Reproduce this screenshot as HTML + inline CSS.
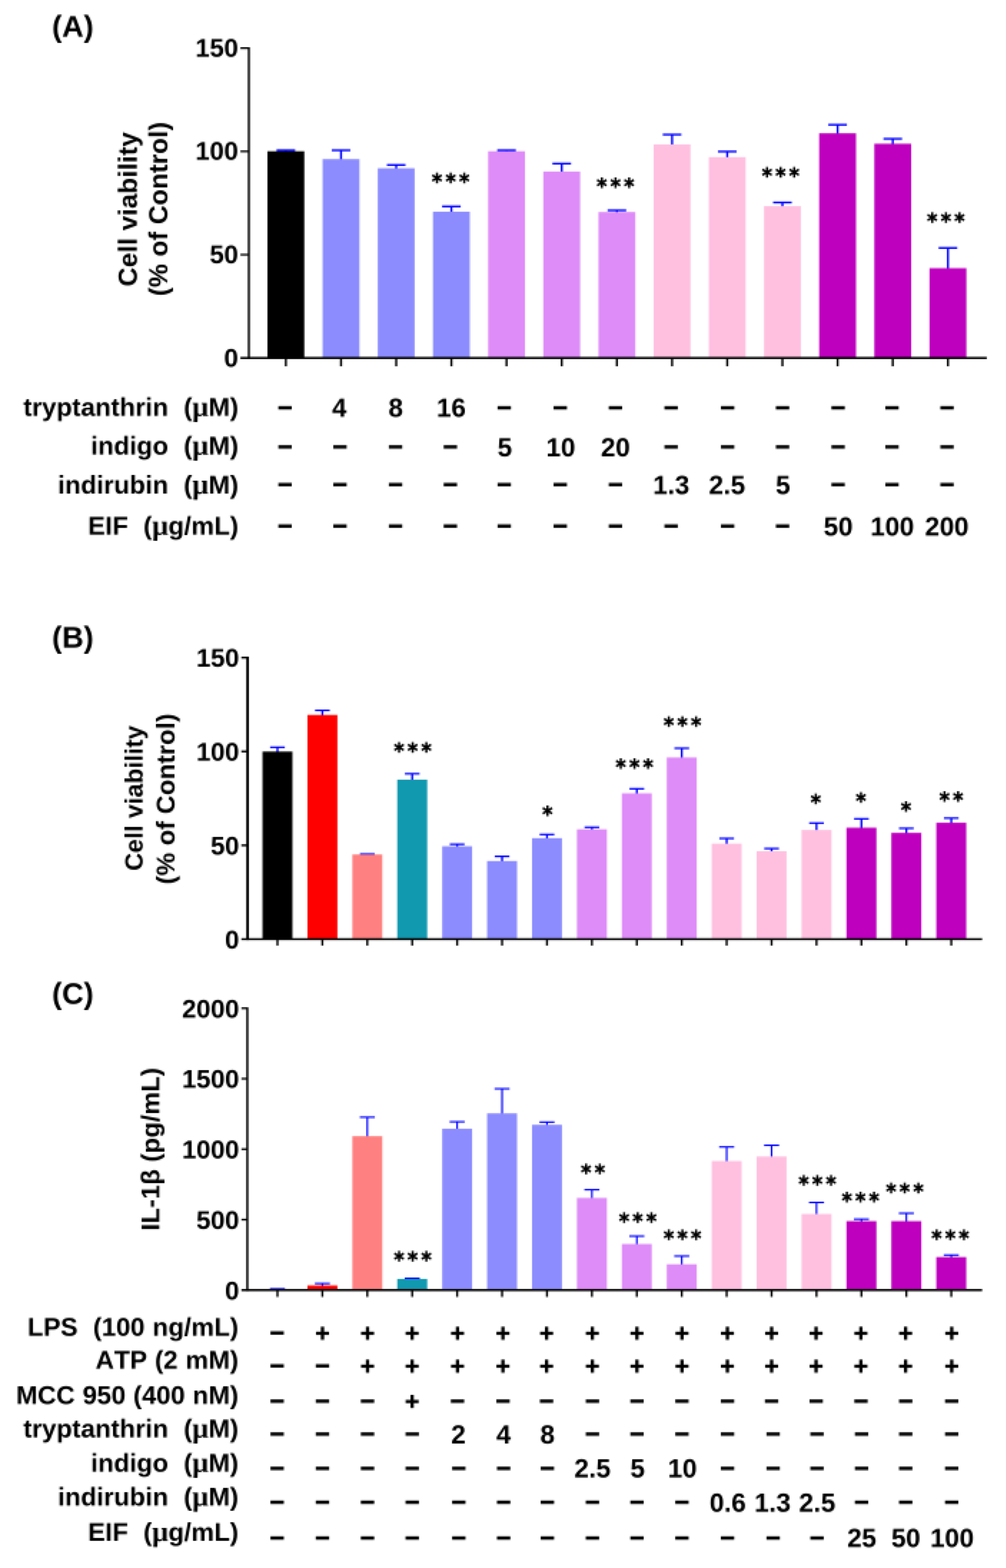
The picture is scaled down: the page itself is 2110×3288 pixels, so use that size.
<!DOCTYPE html>
<html lang="en"><head><meta charset="utf-8"><title>Figure</title>
<style>
html,body{margin:0;padding:0;background:#fff;}
body{width:2110px;height:3288px;overflow:hidden;}
svg{display:block;font-family:"Liberation Sans", Arial, sans-serif;font-weight:bold;fill:#000;}
text{font-kerning:none;}
.s{stroke:#000;stroke-width:1.2px;}
.a{stroke:#000;stroke-width:1.1px;font-family:'DejaVu Sans',sans-serif;}
</style></head><body>
<svg width="2110" height="3288" viewBox="0 0 2110 3288">
<defs>
<filter id="px" filterUnits="userSpaceOnUse" primitiveUnits="userSpaceOnUse" x="0" y="0" width="2110" height="3288" color-interpolation-filters="sRGB">
<feConvolveMatrix in="SourceGraphic" order="3" kernelMatrix="1 1 1 1 1 1 1 1 1" divisor="9" edgeMode="duplicate" preserveAlpha="false" result="avg"/>
<feFlood x="1" y="1" width="1" height="1" flood-color="#000" flood-opacity="1" result="dot"/>
<feComposite in="dot" in2="dot" operator="over" x="0" y="0" width="3" height="3" result="cell"/>
<feTile in="cell" x="0" y="0" width="2110" height="3288" result="grid"/>
<feComposite in="avg" in2="grid" operator="in" result="dots"/>
<feMorphology in="dots" operator="dilate" radius="1" result="pix"/>
<feConvolveMatrix in="pix" order="3" kernelMatrix="1 4 1 4 16 4 1 4 1" divisor="36" edgeMode="duplicate" preserveAlpha="false"/>
</filter>
</defs>
<g filter="url(#px)">
<rect x="0" y="0" width="2110" height="3288" fill="#ffffff"/>
<rect x="597.50" y="314.50" width="4.20" height="3.70" fill="#0000ff" />
<rect x="580.10" y="313.10" width="39.00" height="4.00" fill="#0000ff" />
<rect x="560.95" y="317.20" width="77.30" height="433.50" fill="#000000" />
<rect x="713.22" y="314.50" width="4.20" height="20.10" fill="#0000ff" />
<rect x="695.82" y="313.10" width="39.00" height="4.00" fill="#0000ff" />
<rect x="676.67" y="333.60" width="77.30" height="417.10" fill="#8c8cff" />
<rect x="828.94" y="345.30" width="4.20" height="8.50" fill="#0000ff" />
<rect x="811.54" y="343.90" width="39.00" height="4.00" fill="#0000ff" />
<rect x="792.39" y="352.80" width="77.30" height="397.90" fill="#8c8cff" />
<rect x="944.66" y="432.30" width="4.20" height="12.60" fill="#0000ff" />
<rect x="927.26" y="430.90" width="39.00" height="4.00" fill="#0000ff" />
<rect x="908.11" y="443.90" width="77.30" height="306.80" fill="#8c8cff" />
<rect x="1060.38" y="314.50" width="4.20" height="3.70" fill="#0000ff" />
<rect x="1042.98" y="313.10" width="39.00" height="4.00" fill="#0000ff" />
<rect x="1023.83" y="317.20" width="77.30" height="433.50" fill="#de8cf8" />
<rect x="1176.10" y="342.50" width="4.20" height="18.20" fill="#0000ff" />
<rect x="1158.70" y="341.10" width="39.00" height="4.00" fill="#0000ff" />
<rect x="1139.55" y="359.70" width="77.30" height="391.00" fill="#de8cf8" />
<rect x="1291.82" y="440.50" width="4.20" height="5.10" fill="#0000ff" />
<rect x="1274.42" y="439.10" width="39.00" height="4.00" fill="#0000ff" />
<rect x="1255.27" y="444.60" width="77.30" height="306.10" fill="#de8cf8" />
<rect x="1407.54" y="281.60" width="4.20" height="22.20" fill="#0000ff" />
<rect x="1390.14" y="280.20" width="39.00" height="4.00" fill="#0000ff" />
<rect x="1370.99" y="302.80" width="77.30" height="447.90" fill="#ffc0e0" />
<rect x="1523.26" y="317.20" width="4.20" height="13.30" fill="#0000ff" />
<rect x="1505.86" y="315.80" width="39.00" height="4.00" fill="#0000ff" />
<rect x="1486.71" y="329.50" width="77.30" height="421.20" fill="#ffc0e0" />
<rect x="1638.98" y="424.00" width="4.20" height="9.30" fill="#0000ff" />
<rect x="1621.58" y="422.60" width="39.00" height="4.00" fill="#0000ff" />
<rect x="1602.43" y="432.30" width="77.30" height="318.40" fill="#ffc0e0" />
<rect x="1754.70" y="261.00" width="4.20" height="19.50" fill="#0000ff" />
<rect x="1737.30" y="259.60" width="39.00" height="4.00" fill="#0000ff" />
<rect x="1718.15" y="279.50" width="77.30" height="471.20" fill="#be00be" />
<rect x="1870.42" y="290.50" width="4.20" height="11.90" fill="#0000ff" />
<rect x="1853.02" y="289.10" width="39.00" height="4.00" fill="#0000ff" />
<rect x="1833.87" y="301.40" width="77.30" height="449.30" fill="#be00be" />
<rect x="1986.14" y="519.30" width="4.20" height="44.10" fill="#0000ff" />
<rect x="1968.74" y="517.90" width="39.00" height="4.00" fill="#0000ff" />
<rect x="1949.59" y="562.40" width="77.30" height="188.30" fill="#be00be" />
<rect x="519.85" y="99.00" width="4.30" height="653.95" fill="#000" />
<rect x="504.35" y="748.45" width="1565.35" height="4.50" fill="#000" />
<rect x="504.35" y="99.00" width="16.50" height="3.80" fill="#000" />
<rect x="504.35" y="315.60" width="16.50" height="3.80" fill="#000" />
<rect x="504.35" y="532.20" width="16.50" height="3.80" fill="#000" />
<text x="499.80" y="118.75" font-size="54" text-anchor="end" >150</text>
<text x="499.80" y="335.35" font-size="54" text-anchor="end" >100</text>
<text x="499.80" y="551.95" font-size="54" text-anchor="end" >50</text>
<text x="499.80" y="768.55" font-size="54" text-anchor="end" >0</text>
<rect x="597.45" y="750.70" width="4.30" height="17.40" fill="#000" />
<rect x="713.17" y="750.70" width="4.30" height="17.40" fill="#000" />
<rect x="828.89" y="750.70" width="4.30" height="17.40" fill="#000" />
<rect x="944.61" y="750.70" width="4.30" height="17.40" fill="#000" />
<rect x="1060.33" y="750.70" width="4.30" height="17.40" fill="#000" />
<rect x="1176.05" y="750.70" width="4.30" height="17.40" fill="#000" />
<rect x="1291.77" y="750.70" width="4.30" height="17.40" fill="#000" />
<rect x="1407.49" y="750.70" width="4.30" height="17.40" fill="#000" />
<rect x="1523.21" y="750.70" width="4.30" height="17.40" fill="#000" />
<rect x="1638.93" y="750.70" width="4.30" height="17.40" fill="#000" />
<rect x="1754.65" y="750.70" width="4.30" height="17.40" fill="#000" />
<rect x="1870.37" y="750.70" width="4.30" height="17.40" fill="#000" />
<rect x="1986.09" y="750.70" width="4.30" height="17.40" fill="#000" />
<rect x="579.95" y="1566.40" width="4.10" height="10.60" fill="#0000ff" />
<rect x="566.60" y="1565.20" width="30.80" height="3.60" fill="#0000ff" />
<rect x="550.60" y="1576.00" width="62.80" height="393.35" fill="#000000" />
<rect x="674.17" y="1489.00" width="4.10" height="11.20" fill="#0000ff" />
<rect x="660.82" y="1487.80" width="30.80" height="3.60" fill="#0000ff" />
<rect x="644.82" y="1499.20" width="62.80" height="470.15" fill="#ff0000" />
<rect x="768.38" y="1790.40" width="4.10" height="2.40" fill="#0000ff" />
<rect x="755.03" y="1789.20" width="30.80" height="3.60" fill="#0000ff" />
<rect x="739.03" y="1791.80" width="62.80" height="177.55" fill="#ff8080" />
<rect x="862.60" y="1621.90" width="4.10" height="14.00" fill="#0000ff" />
<rect x="849.25" y="1620.70" width="30.80" height="3.60" fill="#0000ff" />
<rect x="833.25" y="1634.90" width="62.80" height="334.45" fill="#1199b0" />
<rect x="956.81" y="1769.80" width="4.10" height="5.80" fill="#0000ff" />
<rect x="943.46" y="1768.60" width="30.80" height="3.60" fill="#0000ff" />
<rect x="927.46" y="1774.60" width="62.80" height="194.75" fill="#8c8cff" />
<rect x="1051.03" y="1795.20" width="4.10" height="11.30" fill="#0000ff" />
<rect x="1037.67" y="1794.00" width="30.80" height="3.60" fill="#0000ff" />
<rect x="1021.68" y="1805.50" width="62.80" height="163.85" fill="#8c8cff" />
<rect x="1145.24" y="1749.30" width="4.10" height="9.20" fill="#0000ff" />
<rect x="1131.89" y="1748.10" width="30.80" height="3.60" fill="#0000ff" />
<rect x="1115.89" y="1757.50" width="62.80" height="211.85" fill="#8c8cff" />
<rect x="1239.46" y="1734.20" width="4.10" height="5.80" fill="#0000ff" />
<rect x="1226.11" y="1733.00" width="30.80" height="3.60" fill="#0000ff" />
<rect x="1210.11" y="1739.00" width="62.80" height="230.35" fill="#de8cf8" />
<rect x="1333.67" y="1653.40" width="4.10" height="11.20" fill="#0000ff" />
<rect x="1320.32" y="1652.20" width="30.80" height="3.60" fill="#0000ff" />
<rect x="1304.32" y="1663.60" width="62.80" height="305.75" fill="#de8cf8" />
<rect x="1427.88" y="1568.40" width="4.10" height="20.90" fill="#0000ff" />
<rect x="1414.53" y="1567.20" width="30.80" height="3.60" fill="#0000ff" />
<rect x="1398.53" y="1588.30" width="62.80" height="381.05" fill="#de8cf8" />
<rect x="1522.10" y="1757.50" width="4.10" height="12.60" fill="#0000ff" />
<rect x="1508.75" y="1756.30" width="30.80" height="3.60" fill="#0000ff" />
<rect x="1492.75" y="1769.10" width="62.80" height="200.25" fill="#ffc0e0" />
<rect x="1616.32" y="1778.70" width="4.10" height="7.20" fill="#0000ff" />
<rect x="1602.96" y="1777.50" width="30.80" height="3.60" fill="#0000ff" />
<rect x="1586.96" y="1784.90" width="62.80" height="184.45" fill="#ffc0e0" />
<rect x="1710.53" y="1725.30" width="4.10" height="16.10" fill="#0000ff" />
<rect x="1697.18" y="1724.10" width="30.80" height="3.60" fill="#0000ff" />
<rect x="1681.18" y="1740.40" width="62.80" height="228.95" fill="#ffc0e0" />
<rect x="1804.75" y="1716.40" width="4.10" height="20.20" fill="#0000ff" />
<rect x="1791.39" y="1715.20" width="30.80" height="3.60" fill="#0000ff" />
<rect x="1775.39" y="1735.60" width="62.80" height="233.75" fill="#be00be" />
<rect x="1898.96" y="1736.30" width="4.10" height="11.20" fill="#0000ff" />
<rect x="1885.61" y="1735.10" width="30.80" height="3.60" fill="#0000ff" />
<rect x="1869.61" y="1746.50" width="62.80" height="222.85" fill="#be00be" />
<rect x="1993.18" y="1715.00" width="4.10" height="11.30" fill="#0000ff" />
<rect x="1979.83" y="1713.80" width="30.80" height="3.60" fill="#0000ff" />
<rect x="1963.83" y="1725.30" width="62.80" height="244.05" fill="#be00be" />
<rect x="516.60" y="1376.90" width="5.50" height="594.50" fill="#000" />
<rect x="506.25" y="1967.30" width="1553.75" height="4.10" fill="#000" />
<rect x="506.25" y="1376.90" width="11.35" height="4.20" fill="#000" />
<rect x="506.25" y="1573.70" width="11.35" height="4.20" fill="#000" />
<rect x="506.25" y="1770.50" width="11.35" height="4.20" fill="#000" />
<text x="501.80" y="1398.35" font-size="54" text-anchor="end" >150</text>
<text x="501.80" y="1595.15" font-size="54" text-anchor="end" >100</text>
<text x="501.80" y="1791.95" font-size="54" text-anchor="end" >50</text>
<text x="501.80" y="1988.70" font-size="54" text-anchor="end" >0</text>
<rect x="579.90" y="1969.35" width="4.20" height="13.45" fill="#000" />
<rect x="674.12" y="1969.35" width="4.20" height="13.45" fill="#000" />
<rect x="768.33" y="1969.35" width="4.20" height="13.45" fill="#000" />
<rect x="862.54" y="1969.35" width="4.20" height="13.45" fill="#000" />
<rect x="956.76" y="1969.35" width="4.20" height="13.45" fill="#000" />
<rect x="1050.98" y="1969.35" width="4.20" height="13.45" fill="#000" />
<rect x="1145.19" y="1969.35" width="4.20" height="13.45" fill="#000" />
<rect x="1239.41" y="1969.35" width="4.20" height="13.45" fill="#000" />
<rect x="1333.62" y="1969.35" width="4.20" height="13.45" fill="#000" />
<rect x="1427.84" y="1969.35" width="4.20" height="13.45" fill="#000" />
<rect x="1522.05" y="1969.35" width="4.20" height="13.45" fill="#000" />
<rect x="1616.27" y="1969.35" width="4.20" height="13.45" fill="#000" />
<rect x="1710.48" y="1969.35" width="4.20" height="13.45" fill="#000" />
<rect x="1804.70" y="1969.35" width="4.20" height="13.45" fill="#000" />
<rect x="1898.91" y="1969.35" width="4.20" height="13.45" fill="#000" />
<rect x="1993.13" y="1969.35" width="4.20" height="13.45" fill="#000" />
<rect x="580.30" y="2702.00" width="3.40" height="2.00" fill="#0000ff" />
<rect x="566.25" y="2700.95" width="31.50" height="3.30" fill="#0000ff" />
<rect x="550.60" y="2703.00" width="62.80" height="2.20" fill="#000000" />
<rect x="674.51" y="2690.80" width="3.40" height="5.80" fill="#0000ff" />
<rect x="660.47" y="2689.75" width="31.50" height="3.30" fill="#0000ff" />
<rect x="644.82" y="2695.60" width="62.80" height="9.60" fill="#ff0000" />
<rect x="768.73" y="2342.10" width="3.40" height="41.40" fill="#0000ff" />
<rect x="754.68" y="2341.05" width="31.50" height="3.30" fill="#0000ff" />
<rect x="739.03" y="2382.50" width="62.80" height="322.70" fill="#ff8080" />
<rect x="862.94" y="2679.90" width="3.40" height="3.00" fill="#0000ff" />
<rect x="848.89" y="2678.85" width="31.50" height="3.30" fill="#0000ff" />
<rect x="833.25" y="2681.90" width="62.80" height="23.30" fill="#1199b0" />
<rect x="957.16" y="2351.70" width="3.40" height="16.10" fill="#0000ff" />
<rect x="943.11" y="2350.65" width="31.50" height="3.30" fill="#0000ff" />
<rect x="927.46" y="2366.80" width="62.80" height="338.40" fill="#8c8cff" />
<rect x="1051.38" y="2282.50" width="3.40" height="53.10" fill="#0000ff" />
<rect x="1037.33" y="2281.45" width="31.50" height="3.30" fill="#0000ff" />
<rect x="1021.68" y="2334.60" width="62.80" height="370.60" fill="#8c8cff" />
<rect x="1145.59" y="2352.40" width="3.40" height="7.20" fill="#0000ff" />
<rect x="1131.54" y="2351.35" width="31.50" height="3.30" fill="#0000ff" />
<rect x="1115.89" y="2358.60" width="62.80" height="346.60" fill="#8c8cff" />
<rect x="1239.81" y="2494.20" width="3.40" height="18.80" fill="#0000ff" />
<rect x="1225.76" y="2493.15" width="31.50" height="3.30" fill="#0000ff" />
<rect x="1210.11" y="2512.00" width="62.80" height="193.20" fill="#de8cf8" />
<rect x="1334.02" y="2591.50" width="3.40" height="18.10" fill="#0000ff" />
<rect x="1319.97" y="2590.45" width="31.50" height="3.30" fill="#0000ff" />
<rect x="1304.32" y="2608.60" width="62.80" height="96.60" fill="#de8cf8" />
<rect x="1428.23" y="2633.30" width="3.40" height="18.80" fill="#0000ff" />
<rect x="1414.18" y="2632.25" width="31.50" height="3.30" fill="#0000ff" />
<rect x="1398.53" y="2651.10" width="62.80" height="54.10" fill="#de8cf8" />
<rect x="1522.45" y="2404.50" width="3.40" height="31.10" fill="#0000ff" />
<rect x="1508.40" y="2403.45" width="31.50" height="3.30" fill="#0000ff" />
<rect x="1492.75" y="2434.60" width="62.80" height="270.60" fill="#ffc0e0" />
<rect x="1616.66" y="2401.00" width="3.40" height="25.00" fill="#0000ff" />
<rect x="1602.62" y="2399.95" width="31.50" height="3.30" fill="#0000ff" />
<rect x="1586.96" y="2425.00" width="62.80" height="280.20" fill="#ffc0e0" />
<rect x="1710.88" y="2520.90" width="3.40" height="25.70" fill="#0000ff" />
<rect x="1696.83" y="2519.85" width="31.50" height="3.30" fill="#0000ff" />
<rect x="1681.18" y="2545.60" width="62.80" height="159.60" fill="#ffc0e0" />
<rect x="1805.10" y="2555.90" width="3.40" height="5.80" fill="#0000ff" />
<rect x="1791.05" y="2554.85" width="31.50" height="3.30" fill="#0000ff" />
<rect x="1775.39" y="2560.70" width="62.80" height="144.50" fill="#be00be" />
<rect x="1899.31" y="2543.50" width="3.40" height="18.20" fill="#0000ff" />
<rect x="1885.26" y="2542.45" width="31.50" height="3.30" fill="#0000ff" />
<rect x="1869.61" y="2560.70" width="62.80" height="144.50" fill="#be00be" />
<rect x="1993.53" y="2631.20" width="3.40" height="5.80" fill="#0000ff" />
<rect x="1979.48" y="2630.15" width="31.50" height="3.30" fill="#0000ff" />
<rect x="1963.83" y="2636.00" width="62.80" height="69.20" fill="#be00be" />
<rect x="516.60" y="2112.35" width="4.40" height="595.15" fill="#000" />
<rect x="506.40" y="2702.90" width="1553.60" height="4.60" fill="#000" />
<rect x="506.40" y="2112.35" width="11.20" height="3.90" fill="#000" />
<rect x="506.40" y="2260.05" width="11.20" height="3.90" fill="#000" />
<rect x="506.40" y="2407.80" width="11.20" height="3.90" fill="#000" />
<rect x="506.40" y="2555.55" width="11.20" height="3.90" fill="#000" />
<text x="501.80" y="2133.65" font-size="54" text-anchor="end" >2000</text>
<text x="501.80" y="2281.35" font-size="54" text-anchor="end" >1500</text>
<text x="501.80" y="2429.10" font-size="54" text-anchor="end" >1000</text>
<text x="501.80" y="2576.85" font-size="54" text-anchor="end" >500</text>
<text x="501.80" y="2724.55" font-size="54" text-anchor="end" >0</text>
<rect x="579.90" y="2705.20" width="4.20" height="14.30" fill="#000" />
<rect x="674.12" y="2705.20" width="4.20" height="14.30" fill="#000" />
<rect x="768.33" y="2705.20" width="4.20" height="14.30" fill="#000" />
<rect x="862.54" y="2705.20" width="4.20" height="14.30" fill="#000" />
<rect x="956.76" y="2705.20" width="4.20" height="14.30" fill="#000" />
<rect x="1050.98" y="2705.20" width="4.20" height="14.30" fill="#000" />
<rect x="1145.19" y="2705.20" width="4.20" height="14.30" fill="#000" />
<rect x="1239.41" y="2705.20" width="4.20" height="14.30" fill="#000" />
<rect x="1333.62" y="2705.20" width="4.20" height="14.30" fill="#000" />
<rect x="1427.84" y="2705.20" width="4.20" height="14.30" fill="#000" />
<rect x="1522.05" y="2705.20" width="4.20" height="14.30" fill="#000" />
<rect x="1616.27" y="2705.20" width="4.20" height="14.30" fill="#000" />
<rect x="1710.48" y="2705.20" width="4.20" height="14.30" fill="#000" />
<rect x="1804.70" y="2705.20" width="4.20" height="14.30" fill="#000" />
<rect x="1898.91" y="2705.20" width="4.20" height="14.30" fill="#000" />
<rect x="1993.13" y="2705.20" width="4.20" height="14.30" fill="#000" />
<text x="152.70" y="77.00" font-size="63" text-anchor="middle" >(A)</text>
<text x="152.70" y="1357.80" font-size="63" text-anchor="middle" >(B)</text>
<text x="152.70" y="2105.00" font-size="63" text-anchor="middle" >(C)</text>
<text transform="translate(286.5,438.8) rotate(-90)" font-size="55.5" text-anchor="middle">Cell viability</text>
<text transform="translate(351.0,438.3) rotate(-90)" font-size="55.3" text-anchor="middle">(% of Control)</text>
<text transform="translate(299.3,1673.8) rotate(-90)" font-size="52.2" text-anchor="middle">Cell viability</text>
<text transform="translate(366.2,1675.3) rotate(-90)" font-size="54.2" text-anchor="middle">(% of Control)</text>
<text transform="translate(334.2,2409.8) rotate(-90)" font-size="54" text-anchor="middle">IL-1β (pg/mL)</text>
<text transform="translate(945.20,397.17) scale(0.9,1)" x="3.60" class="a" font-size="47" text-anchor="middle" letter-spacing="7.20">***</text>
<text transform="translate(1291.00,407.17) scale(0.9,1)" x="3.60" class="a" font-size="47" text-anchor="middle" letter-spacing="7.20">***</text>
<text transform="translate(1637.30,385.27) scale(0.9,1)" x="3.60" class="a" font-size="47" text-anchor="middle" letter-spacing="7.20">***</text>
<text transform="translate(1984.00,479.77) scale(0.9,1)" x="3.60" class="a" font-size="47" text-anchor="middle" letter-spacing="7.20">***</text>
<text transform="translate(865.60,1590.87) scale(0.9,1)" x="3.60" class="a" font-size="47" text-anchor="middle" letter-spacing="7.20">***</text>
<text transform="translate(1148.20,1724.47) scale(0.9,1)" x="3.60" class="a" font-size="47" text-anchor="middle" letter-spacing="7.20">*</text>
<text transform="translate(1330.70,1625.17) scale(0.9,1)" x="3.60" class="a" font-size="47" text-anchor="middle" letter-spacing="7.20">***</text>
<text transform="translate(1431.40,1537.47) scale(0.9,1)" x="3.60" class="a" font-size="47" text-anchor="middle" letter-spacing="7.20">***</text>
<text transform="translate(1711.00,1699.17) scale(0.9,1)" x="3.60" class="a" font-size="47" text-anchor="middle" letter-spacing="7.20">*</text>
<text transform="translate(1805.80,1695.67) scale(0.9,1)" x="3.60" class="a" font-size="47" text-anchor="middle" letter-spacing="7.20">*</text>
<text transform="translate(1900.40,1714.87) scale(0.9,1)" x="3.60" class="a" font-size="47" text-anchor="middle" letter-spacing="7.20">*</text>
<text transform="translate(1995.30,1694.37) scale(0.9,1)" x="3.60" class="a" font-size="47" text-anchor="middle" letter-spacing="7.20">**</text>
<text transform="translate(865.60,2657.57) scale(0.9,1)" x="3.60" class="a" font-size="47" text-anchor="middle" letter-spacing="7.20">***</text>
<text transform="translate(1243.70,2474.67) scale(0.9,1)" x="3.60" class="a" font-size="47" text-anchor="middle" letter-spacing="7.20">**</text>
<text transform="translate(1337.60,2577.47) scale(0.9,1)" x="3.60" class="a" font-size="47" text-anchor="middle" letter-spacing="7.20">***</text>
<text transform="translate(1431.40,2613.07) scale(0.9,1)" x="3.60" class="a" font-size="47" text-anchor="middle" letter-spacing="7.20">***</text>
<text transform="translate(1714.40,2498.67) scale(0.9,1)" x="3.60" class="a" font-size="47" text-anchor="middle" letter-spacing="7.20">***</text>
<text transform="translate(1804.80,2533.57) scale(0.9,1)" x="3.60" class="a" font-size="47" text-anchor="middle" letter-spacing="7.20">***</text>
<text transform="translate(1897.60,2515.07) scale(0.9,1)" x="3.60" class="a" font-size="47" text-anchor="middle" letter-spacing="7.20">***</text>
<text transform="translate(1993.20,2613.07) scale(0.9,1)" x="3.60" class="a" font-size="47" text-anchor="middle" letter-spacing="7.20">***</text>
<text x="500.40" y="872.30" font-size="54.2" text-anchor="end" xml:space="preserve" word-spacing="1">tryptanthrin  (<tspan font-family='"Liberation Serif", serif' font-size="60">μ</tspan>M)</text>
<text x="597.80" y="873.29" font-size="53.5" text-anchor="middle" class="s">−</text>
<text x="711.80" y="874.20" font-size="55" text-anchor="middle" >4</text>
<text x="830.00" y="874.20" font-size="55" text-anchor="middle" >8</text>
<text x="946.40" y="874.20" font-size="55" text-anchor="middle" >16</text>
<text x="1057.70" y="873.29" font-size="53.5" text-anchor="middle" class="s">−</text>
<text x="1175.10" y="873.29" font-size="53.5" text-anchor="middle" class="s">−</text>
<text x="1290.90" y="873.29" font-size="53.5" text-anchor="middle" class="s">−</text>
<text x="1407.60" y="873.29" font-size="53.5" text-anchor="middle" class="s">−</text>
<text x="1526.20" y="873.29" font-size="53.5" text-anchor="middle" class="s">−</text>
<text x="1641.30" y="873.29" font-size="53.5" text-anchor="middle" class="s">−</text>
<text x="1757.80" y="873.29" font-size="53.5" text-anchor="middle" class="s">−</text>
<text x="1870.90" y="873.29" font-size="53.5" text-anchor="middle" class="s">−</text>
<text x="1986.40" y="873.29" font-size="53.5" text-anchor="middle" class="s">−</text>
<text x="500.40" y="953.30" font-size="54.2" text-anchor="end" xml:space="preserve" word-spacing="1">indigo  (<tspan font-family='"Liberation Serif", serif' font-size="60">μ</tspan>M)</text>
<text x="597.80" y="954.69" font-size="53.5" text-anchor="middle" class="s">−</text>
<text x="713.10" y="954.69" font-size="53.5" text-anchor="middle" class="s">−</text>
<text x="829.50" y="954.69" font-size="53.5" text-anchor="middle" class="s">−</text>
<text x="944.50" y="954.69" font-size="53.5" text-anchor="middle" class="s">−</text>
<text x="1058.80" y="956.70" font-size="55" text-anchor="middle" >5</text>
<text x="1176.20" y="956.70" font-size="55" text-anchor="middle" >10</text>
<text x="1290.90" y="956.70" font-size="55" text-anchor="middle" >20</text>
<text x="1407.60" y="954.69" font-size="53.5" text-anchor="middle" class="s">−</text>
<text x="1526.20" y="954.69" font-size="53.5" text-anchor="middle" class="s">−</text>
<text x="1641.30" y="954.69" font-size="53.5" text-anchor="middle" class="s">−</text>
<text x="1757.80" y="954.69" font-size="53.5" text-anchor="middle" class="s">−</text>
<text x="1870.90" y="954.69" font-size="53.5" text-anchor="middle" class="s">−</text>
<text x="1986.40" y="954.69" font-size="53.5" text-anchor="middle" class="s">−</text>
<text x="500.40" y="1035.00" font-size="54.2" text-anchor="end" xml:space="preserve" word-spacing="1">indirubin  (<tspan font-family='"Liberation Serif", serif' font-size="60">μ</tspan>M)</text>
<text x="597.80" y="1034.29" font-size="53.5" text-anchor="middle" class="s">−</text>
<text x="713.10" y="1034.29" font-size="53.5" text-anchor="middle" class="s">−</text>
<text x="829.50" y="1034.29" font-size="53.5" text-anchor="middle" class="s">−</text>
<text x="944.50" y="1034.29" font-size="53.5" text-anchor="middle" class="s">−</text>
<text x="1057.70" y="1034.29" font-size="53.5" text-anchor="middle" class="s">−</text>
<text x="1175.10" y="1034.29" font-size="53.5" text-anchor="middle" class="s">−</text>
<text x="1290.90" y="1034.29" font-size="53.5" text-anchor="middle" class="s">−</text>
<text x="1407.80" y="1035.60" font-size="55" text-anchor="middle" >1.3</text>
<text x="1524.90" y="1035.60" font-size="55" text-anchor="middle" >2.5</text>
<text x="1642.20" y="1035.60" font-size="55" text-anchor="middle" >5</text>
<text x="1757.80" y="1034.29" font-size="53.5" text-anchor="middle" class="s">−</text>
<text x="1870.90" y="1034.29" font-size="53.5" text-anchor="middle" class="s">−</text>
<text x="1986.40" y="1034.29" font-size="53.5" text-anchor="middle" class="s">−</text>
<text x="500.40" y="1120.50" font-size="54.2" text-anchor="end" xml:space="preserve" word-spacing="1">EIF  (<tspan font-family='"Liberation Serif", serif' font-size="60">μ</tspan>g/mL)</text>
<text x="597.80" y="1120.89" font-size="53.5" text-anchor="middle" class="s">−</text>
<text x="713.10" y="1120.89" font-size="53.5" text-anchor="middle" class="s">−</text>
<text x="829.50" y="1120.89" font-size="53.5" text-anchor="middle" class="s">−</text>
<text x="944.50" y="1120.89" font-size="53.5" text-anchor="middle" class="s">−</text>
<text x="1057.70" y="1120.89" font-size="53.5" text-anchor="middle" class="s">−</text>
<text x="1175.10" y="1120.89" font-size="53.5" text-anchor="middle" class="s">−</text>
<text x="1290.90" y="1120.89" font-size="53.5" text-anchor="middle" class="s">−</text>
<text x="1407.60" y="1120.89" font-size="53.5" text-anchor="middle" class="s">−</text>
<text x="1526.20" y="1120.89" font-size="53.5" text-anchor="middle" class="s">−</text>
<text x="1641.30" y="1120.89" font-size="53.5" text-anchor="middle" class="s">−</text>
<text x="1758.20" y="1122.90" font-size="55" text-anchor="middle" >50</text>
<text x="1871.50" y="1122.90" font-size="55" text-anchor="middle" >100</text>
<text x="1986.00" y="1122.90" font-size="55" text-anchor="middle" >200</text>
<text x="500.40" y="2801.30" font-size="54.2" text-anchor="end" xml:space="preserve" word-spacing="1">LPS  (100 ng/mL)</text>
<text x="581.30" y="2813.29" font-size="53.5" text-anchor="middle" class="s">−</text>
<text x="676.40" y="2812.79" font-size="52" text-anchor="middle" class="s">+</text>
<text x="770.90" y="2812.79" font-size="52" text-anchor="middle" class="s">+</text>
<text x="864.50" y="2812.79" font-size="52" text-anchor="middle" class="s">+</text>
<text x="959.60" y="2812.79" font-size="52" text-anchor="middle" class="s">+</text>
<text x="1055.00" y="2812.79" font-size="52" text-anchor="middle" class="s">+</text>
<text x="1146.40" y="2812.79" font-size="52" text-anchor="middle" class="s">+</text>
<text x="1242.50" y="2812.79" font-size="52" text-anchor="middle" class="s">+</text>
<text x="1336.00" y="2812.79" font-size="52" text-anchor="middle" class="s">+</text>
<text x="1430.40" y="2812.79" font-size="52" text-anchor="middle" class="s">+</text>
<text x="1525.80" y="2812.79" font-size="52" text-anchor="middle" class="s">+</text>
<text x="1618.40" y="2812.79" font-size="52" text-anchor="middle" class="s">+</text>
<text x="1711.80" y="2812.79" font-size="52" text-anchor="middle" class="s">+</text>
<text x="1805.80" y="2812.79" font-size="52" text-anchor="middle" class="s">+</text>
<text x="1899.50" y="2812.79" font-size="52" text-anchor="middle" class="s">+</text>
<text x="1996.20" y="2812.79" font-size="52" text-anchor="middle" class="s">+</text>
<text x="500.40" y="2869.80" font-size="54.2" text-anchor="end" xml:space="preserve" word-spacing="1">ATP (2 mM)</text>
<text x="581.30" y="2882.29" font-size="53.5" text-anchor="middle" class="s">−</text>
<text x="676.40" y="2882.29" font-size="53.5" text-anchor="middle" class="s">−</text>
<text x="770.90" y="2881.79" font-size="52" text-anchor="middle" class="s">+</text>
<text x="864.50" y="2881.79" font-size="52" text-anchor="middle" class="s">+</text>
<text x="959.60" y="2881.79" font-size="52" text-anchor="middle" class="s">+</text>
<text x="1055.00" y="2881.79" font-size="52" text-anchor="middle" class="s">+</text>
<text x="1146.40" y="2881.79" font-size="52" text-anchor="middle" class="s">+</text>
<text x="1242.50" y="2881.79" font-size="52" text-anchor="middle" class="s">+</text>
<text x="1336.00" y="2881.79" font-size="52" text-anchor="middle" class="s">+</text>
<text x="1430.40" y="2881.79" font-size="52" text-anchor="middle" class="s">+</text>
<text x="1525.80" y="2881.79" font-size="52" text-anchor="middle" class="s">+</text>
<text x="1618.40" y="2881.79" font-size="52" text-anchor="middle" class="s">+</text>
<text x="1711.80" y="2881.79" font-size="52" text-anchor="middle" class="s">+</text>
<text x="1805.80" y="2881.79" font-size="52" text-anchor="middle" class="s">+</text>
<text x="1899.50" y="2881.79" font-size="52" text-anchor="middle" class="s">+</text>
<text x="1996.20" y="2881.79" font-size="52" text-anchor="middle" class="s">+</text>
<text x="500.40" y="2943.60" font-size="54.2" text-anchor="end" xml:space="preserve" word-spacing="1">MCC 950 (400 nM)</text>
<text x="581.30" y="2956.19" font-size="53.5" text-anchor="middle" class="s">−</text>
<text x="676.40" y="2956.19" font-size="53.5" text-anchor="middle" class="s">−</text>
<text x="770.90" y="2956.19" font-size="53.5" text-anchor="middle" class="s">−</text>
<text x="864.50" y="2955.69" font-size="52" text-anchor="middle" class="s">+</text>
<text x="959.60" y="2956.19" font-size="53.5" text-anchor="middle" class="s">−</text>
<text x="1055.00" y="2956.19" font-size="53.5" text-anchor="middle" class="s">−</text>
<text x="1146.40" y="2956.19" font-size="53.5" text-anchor="middle" class="s">−</text>
<text x="1242.50" y="2956.19" font-size="53.5" text-anchor="middle" class="s">−</text>
<text x="1336.00" y="2956.19" font-size="53.5" text-anchor="middle" class="s">−</text>
<text x="1430.40" y="2956.19" font-size="53.5" text-anchor="middle" class="s">−</text>
<text x="1525.80" y="2956.19" font-size="53.5" text-anchor="middle" class="s">−</text>
<text x="1618.40" y="2956.19" font-size="53.5" text-anchor="middle" class="s">−</text>
<text x="1711.80" y="2956.19" font-size="53.5" text-anchor="middle" class="s">−</text>
<text x="1805.80" y="2956.19" font-size="53.5" text-anchor="middle" class="s">−</text>
<text x="1899.50" y="2956.19" font-size="53.5" text-anchor="middle" class="s">−</text>
<text x="1996.20" y="2956.19" font-size="53.5" text-anchor="middle" class="s">−</text>
<text x="500.40" y="3013.80" font-size="54.2" text-anchor="end" xml:space="preserve" word-spacing="1">tryptanthrin  (<tspan font-family='"Liberation Serif", serif' font-size="60">μ</tspan>M)</text>
<text x="581.30" y="3025.49" font-size="53.5" text-anchor="middle" class="s">−</text>
<text x="676.40" y="3025.49" font-size="53.5" text-anchor="middle" class="s">−</text>
<text x="770.90" y="3025.49" font-size="53.5" text-anchor="middle" class="s">−</text>
<text x="864.50" y="3025.49" font-size="53.5" text-anchor="middle" class="s">−</text>
<text x="961.60" y="3026.50" font-size="55" text-anchor="middle" >2</text>
<text x="1056.40" y="3026.50" font-size="55" text-anchor="middle" >4</text>
<text x="1148.20" y="3026.50" font-size="55" text-anchor="middle" >8</text>
<text x="1242.50" y="3025.49" font-size="53.5" text-anchor="middle" class="s">−</text>
<text x="1336.00" y="3025.49" font-size="53.5" text-anchor="middle" class="s">−</text>
<text x="1430.40" y="3025.49" font-size="53.5" text-anchor="middle" class="s">−</text>
<text x="1525.80" y="3025.49" font-size="53.5" text-anchor="middle" class="s">−</text>
<text x="1621.60" y="3025.49" font-size="53.5" text-anchor="middle" class="s">−</text>
<text x="1713.60" y="3025.49" font-size="53.5" text-anchor="middle" class="s">−</text>
<text x="1807.10" y="3025.49" font-size="53.5" text-anchor="middle" class="s">−</text>
<text x="1899.50" y="3025.49" font-size="53.5" text-anchor="middle" class="s">−</text>
<text x="1996.20" y="3025.49" font-size="53.5" text-anchor="middle" class="s">−</text>
<text x="500.40" y="3085.70" font-size="54.2" text-anchor="end" xml:space="preserve" word-spacing="1">indigo  (<tspan font-family='"Liberation Serif", serif' font-size="60">μ</tspan>M)</text>
<text x="581.30" y="3096.69" font-size="53.5" text-anchor="middle" class="s">−</text>
<text x="676.40" y="3096.69" font-size="53.5" text-anchor="middle" class="s">−</text>
<text x="770.90" y="3096.69" font-size="53.5" text-anchor="middle" class="s">−</text>
<text x="864.50" y="3096.69" font-size="53.5" text-anchor="middle" class="s">−</text>
<text x="962.40" y="3096.69" font-size="53.5" text-anchor="middle" class="s">−</text>
<text x="1056.40" y="3096.69" font-size="53.5" text-anchor="middle" class="s">−</text>
<text x="1148.20" y="3096.69" font-size="53.5" text-anchor="middle" class="s">−</text>
<text x="1242.70" y="3098.30" font-size="55" text-anchor="middle" >2.5</text>
<text x="1337.30" y="3098.30" font-size="55" text-anchor="middle" >5</text>
<text x="1431.30" y="3098.30" font-size="55" text-anchor="middle" >10</text>
<text x="1525.80" y="3096.69" font-size="53.5" text-anchor="middle" class="s">−</text>
<text x="1621.60" y="3096.69" font-size="53.5" text-anchor="middle" class="s">−</text>
<text x="1713.60" y="3096.69" font-size="53.5" text-anchor="middle" class="s">−</text>
<text x="1807.10" y="3096.69" font-size="53.5" text-anchor="middle" class="s">−</text>
<text x="1899.50" y="3096.69" font-size="53.5" text-anchor="middle" class="s">−</text>
<text x="1996.20" y="3096.69" font-size="53.5" text-anchor="middle" class="s">−</text>
<text x="500.40" y="3157.00" font-size="54.2" text-anchor="end" xml:space="preserve" word-spacing="1">indirubin  (<tspan font-family='"Liberation Serif", serif' font-size="60">μ</tspan>M)</text>
<text x="581.30" y="3168.29" font-size="53.5" text-anchor="middle" class="s">−</text>
<text x="676.40" y="3168.29" font-size="53.5" text-anchor="middle" class="s">−</text>
<text x="770.90" y="3168.29" font-size="53.5" text-anchor="middle" class="s">−</text>
<text x="864.50" y="3168.29" font-size="53.5" text-anchor="middle" class="s">−</text>
<text x="962.40" y="3168.29" font-size="53.5" text-anchor="middle" class="s">−</text>
<text x="1056.40" y="3168.29" font-size="53.5" text-anchor="middle" class="s">−</text>
<text x="1148.20" y="3168.29" font-size="53.5" text-anchor="middle" class="s">−</text>
<text x="1242.50" y="3168.29" font-size="53.5" text-anchor="middle" class="s">−</text>
<text x="1336.00" y="3168.29" font-size="53.5" text-anchor="middle" class="s">−</text>
<text x="1430.40" y="3168.29" font-size="53.5" text-anchor="middle" class="s">−</text>
<text x="1526.40" y="3169.60" font-size="55" text-anchor="middle" >0.6</text>
<text x="1620.40" y="3169.60" font-size="55" text-anchor="middle" >1.3</text>
<text x="1714.00" y="3169.60" font-size="55" text-anchor="middle" >2.5</text>
<text x="1807.10" y="3168.29" font-size="53.5" text-anchor="middle" class="s">−</text>
<text x="1899.50" y="3168.29" font-size="53.5" text-anchor="middle" class="s">−</text>
<text x="1996.20" y="3168.29" font-size="53.5" text-anchor="middle" class="s">−</text>
<text x="500.40" y="3231.00" font-size="54.2" text-anchor="end" xml:space="preserve" word-spacing="1">EIF  (<tspan font-family='"Liberation Serif", serif' font-size="60">μ</tspan>g/mL)</text>
<text x="581.30" y="3242.89" font-size="53.5" text-anchor="middle" class="s">−</text>
<text x="676.40" y="3242.89" font-size="53.5" text-anchor="middle" class="s">−</text>
<text x="770.90" y="3242.89" font-size="53.5" text-anchor="middle" class="s">−</text>
<text x="864.50" y="3242.89" font-size="53.5" text-anchor="middle" class="s">−</text>
<text x="962.40" y="3242.89" font-size="53.5" text-anchor="middle" class="s">−</text>
<text x="1056.40" y="3242.89" font-size="53.5" text-anchor="middle" class="s">−</text>
<text x="1148.20" y="3242.89" font-size="53.5" text-anchor="middle" class="s">−</text>
<text x="1242.50" y="3242.89" font-size="53.5" text-anchor="middle" class="s">−</text>
<text x="1336.00" y="3242.89" font-size="53.5" text-anchor="middle" class="s">−</text>
<text x="1430.40" y="3242.89" font-size="53.5" text-anchor="middle" class="s">−</text>
<text x="1525.80" y="3242.89" font-size="53.5" text-anchor="middle" class="s">−</text>
<text x="1621.60" y="3242.89" font-size="53.5" text-anchor="middle" class="s">−</text>
<text x="1713.60" y="3242.89" font-size="53.5" text-anchor="middle" class="s">−</text>
<text x="1807.60" y="3243.80" font-size="55" text-anchor="middle" >25</text>
<text x="1900.00" y="3243.80" font-size="55" text-anchor="middle" >50</text>
<text x="1996.90" y="3243.80" font-size="55" text-anchor="middle" >100</text>
</g>
</svg>
</body></html>
